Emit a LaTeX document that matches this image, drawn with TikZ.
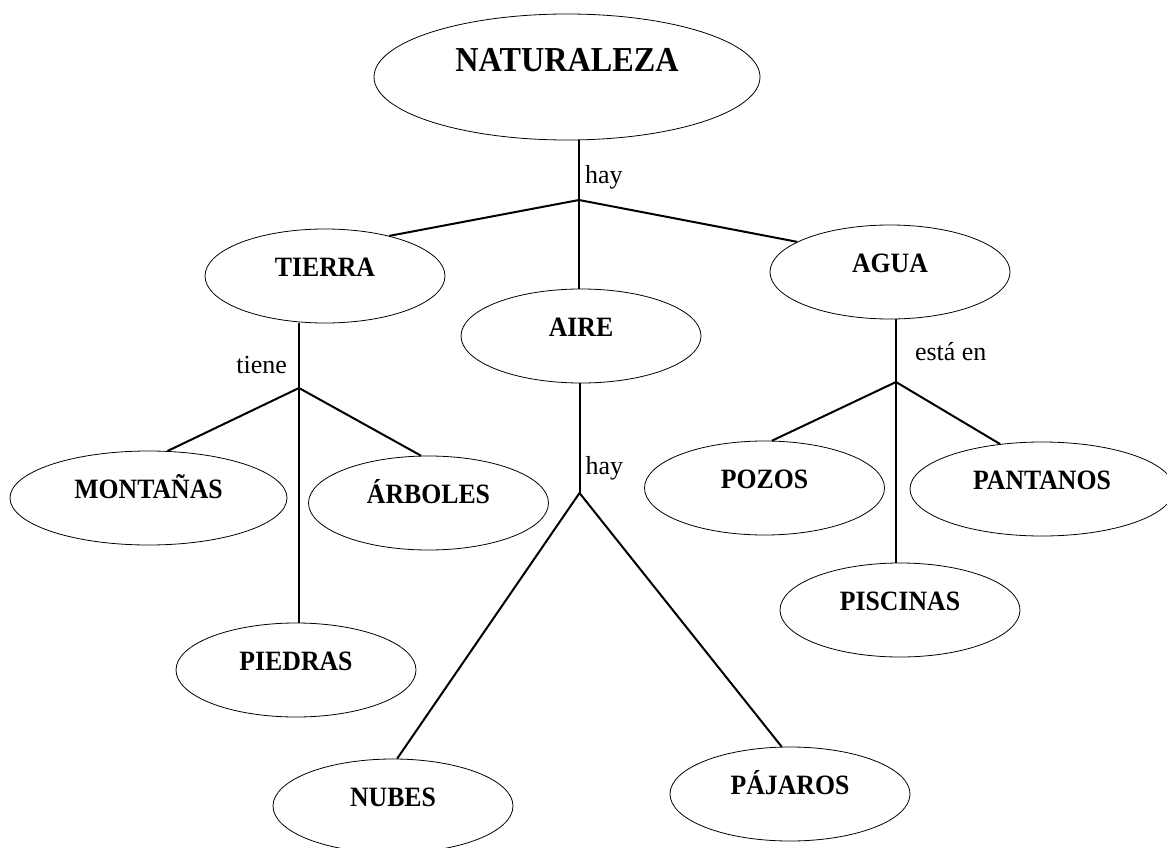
\documentclass[tikz,border=0pt]{standalone}
\usepackage{fontspec}
\setmainfont{Liberation Serif}
\newfontfamily\conceptfont[FakeStretch=0.92]{Liberation Serif}
\usetikzlibrary{shapes.geometric,positioning}

\tikzset{
  concept/.style={ellipse, draw, line width=0.8pt, minimum width=240pt, minimum height=94pt,
    inner sep=3pt, font=\conceptfont\fontsize{28}{32}\selectfont\bfseries, text height=18.5pt, text depth=18pt},
  big/.style={minimum width=386pt, minimum height=126pt,
    font=\conceptfont\fontsize{35}{40}\selectfont\bfseries, text height=23pt, text depth=34pt},
  lbl/.style={font=\fontsize{26}{30}\selectfont, inner sep=5pt, text height=18pt, text depth=6pt},
  conn/.style={line width=2pt}
}

\begin{document}
\begin{tikzpicture}[x=1pt, y=1pt, on grid]
        \useasboundingbox (0,0) rectangle (1167,-848);
        \node[concept, big] (nat) at (567,-77) {NATURALEZA};
        \node[concept] (tie)  [below left=199pt and 242pt of nat] {TIERRA};
        \node[concept] (aire) [below right=259pt and 14pt of nat] {AIRE};
        \node[concept] (agua) [below right=195pt and 323pt of nat] {AGUA};
        \node[concept, minimum width=277pt] (mon) [below left=222pt and 176.5pt of tie] {MONTAÑAS};
        \node[concept] (arb)  [below right=227pt and 103.5pt of tie] {ÁRBOLES};
        \node[concept] (pie)  [below left=394pt and 29pt of tie] {PIEDRAS};
        \node[concept] (nub)  [below left=470pt and 188pt of aire] {NUBES};
        \node[concept] (paj)  [below right=458pt and 209pt of aire] {PÁJAROS};
        \node[concept] (poz)  [below left=216pt and 125.5pt of agua] {POZOS};
        \node[concept, minimum width=264pt] (pan) [below right=217pt and 152pt of agua] {PANTANOS};
        \node[concept] (pis)  [below right=338pt and 10pt of agua] {PISCINAS};
        \coordinate[below right=123pt and 12pt of nat] (jnat);
        \coordinate[below left=112pt and 26pt of tie] (jtie);
        \coordinate[below left=157pt and 1.5pt of aire] (jaire);
        \coordinate[below right=110pt and 6pt of agua] (jagua);
        \path[conn]
        (jnat |- nat.south)
        edge node[lbl, right, pos=0.62] (hay1) {hay} (jnat)
        (jnat)
        edge (tie.32)
        edge (agua.162)
        edge (jnat |- aire.north)
        (jtie |- tie.south)
        edge node[lbl, left, pos=0.69, xshift=-6pt] (tiene) {tiene} (jtie)
        (jtie)
        edge (mon.68)
        edge (arb.99)
        edge (jtie |- pie.north)
        (jaire |- aire.south)
        edge node[lbl, right, pos=0.78] (hay2) {hay} (jaire)
        (jaire)
        edge (nub.85)
        edge (paj.100)
        (jagua |- agua.south)
        edge node[lbl, right, pos=0.56, xshift=13pt] (esta) {está en} (jagua)
        (jagua)
        edge (poz.81)
        edge (pan.133)
        edge (jagua |- pis.north);
    \end{tikzpicture}
\end{document}
